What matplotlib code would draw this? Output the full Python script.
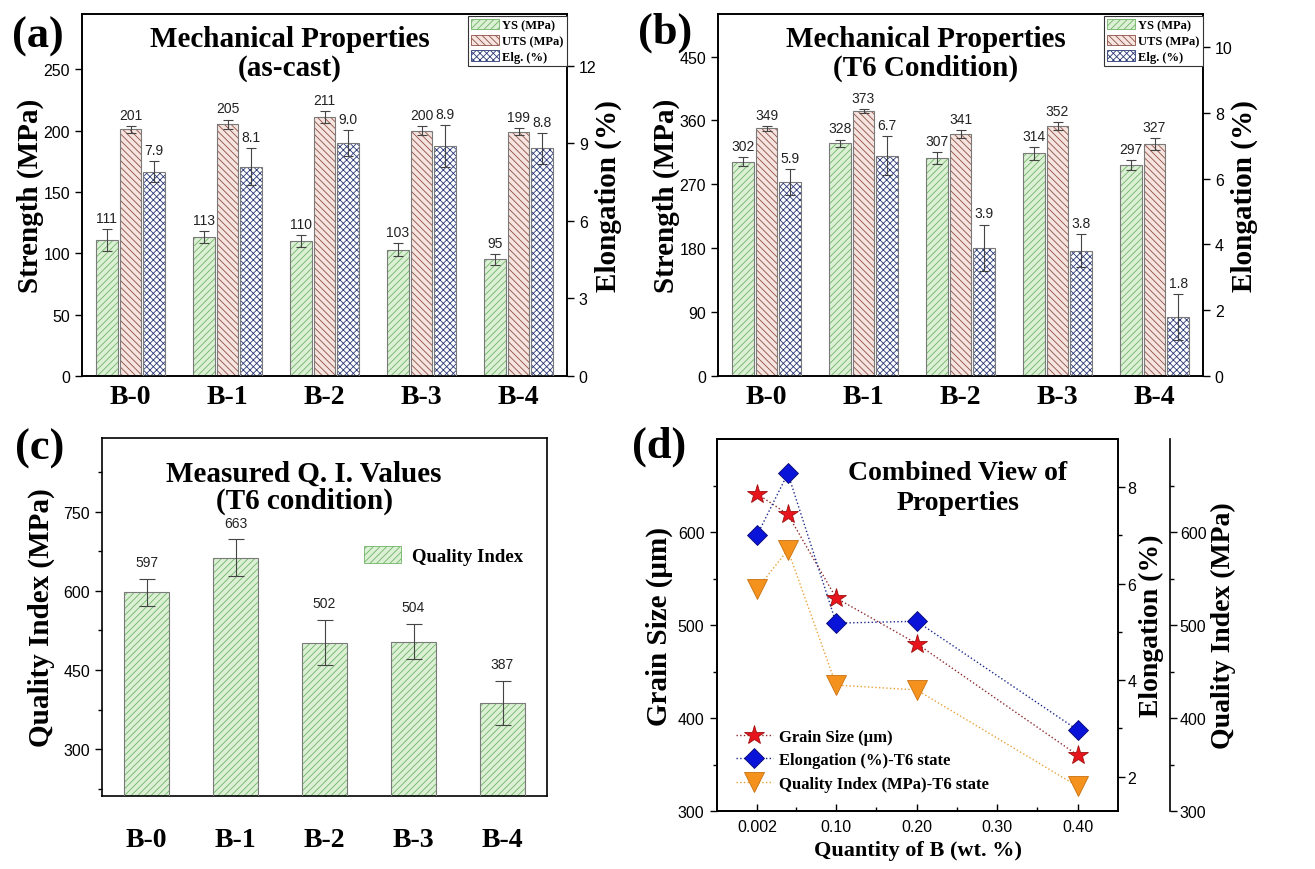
import numpy as np
import matplotlib.pyplot as plt
from matplotlib.patches import Patch
from matplotlib.ticker import FixedLocator

plt.rcParams['font.family'] = ['Liberation Sans', 'DejaVu Sans']
plt.rcParams['hatch.linewidth'] = 0.6
plt.rcParams['axes.linewidth'] = 1.2
SERIF = ['Liberation Serif', 'DejaVu Serif']

alloys = ['B-0', 'B-1', 'B-2', 'B-3', 'B-4']

# (a) as-cast
ys_cast = [111, 113, 110, 103, 95]
ys_cast_err = [9, 5, 5, 5, 4.5]
uts_cast = [201, 205, 211, 200, 199]
uts_cast_err = [3, 4, 5, 4, 3]
elg_cast = [7.9, 8.1, 9.0, 8.9, 8.8]
elg_cast_err = [0.4, 0.7, 0.5, 0.8, 0.6]

# (b) T6
ys_t6 = [302, 328, 307, 314, 297]
ys_t6_err = [6, 5, 8, 9, 7]
uts_t6 = [349, 373, 341, 352, 327]
uts_t6_err = [3.5, 3, 5, 6, 8]
elg_t6 = [5.9, 6.7, 3.9, 3.8, 1.8]
elg_t6_err = [0.4, 0.6, 0.7, 0.5, 0.7]

# (c) quality index
qi_t6 = [597, 663, 502, 504, 387]
qi_t6_err = [26, 35, 43, 34, 42]

# (d) combined
b_wt = [0.002, 0.04, 0.10, 0.20, 0.40]
grain = [641, 619, 529, 480, 360]
b_ticks = [0.002, 0.10, 0.20, 0.30, 0.40]
b_ticklabels = ['0.002', '0.10', '0.20', '0.30', '0.40']

# bar styles: face, hatch colour, hatch
YS_STYLE = ('#dcf0d6', '#6fb466', '/////')
UTS_STYLE = ('#f5e4df', '#8e4f44', '\\\\\\\\\\')
ELG_STYLE = ('#ffffff', '#2c3a78', 'xxxxx')
EDGE = '#7a7a7a'


def hbar(ax, x, h, w, style):
    face, hc, hatch = style
    ax.bar(x, h, w, color=face, edgecolor=hc, hatch=hatch, linewidth=0, zorder=2)
    ax.bar(x, h, w, color='none', edgecolor=EDGE, linewidth=0.8, zorder=3)


def errs(ax, x, h, e, cap=3.5):
    ax.errorbar(x, h, yerr=e, fmt='none', ecolor='#444444', elinewidth=0.8,
                capsize=cap, capthick=0.8, zorder=4)


def values(ax, x, h, e, fmt, dy=3):
    for xi, hi, ei in zip(x, h, e):
        ax.annotate(fmt.format(hi), (xi, hi + ei), xytext=(0, dy),
                    textcoords='offset points', ha='center', va='bottom',
                    fontsize=10, color='#222222')


def title(ax, lines, x, ys, size=21):
    for t, y in zip(lines, ys):
        ax.text(x, y, t, transform=ax.transAxes, ha='center', va='baseline',
                fontsize=size, fontweight='bold', family=SERIF, zorder=6)


W, H = 1315, 870
fig = plt.figure(figsize=(W / 100, H / 100), dpi=100)


def px_axes(l, t, r, b):
    return fig.add_axes([l / W, 1 - b / H, (r - l) / W, (b - t) / H])


def strength_panel(ax, ys, yse, uts, utse, elg, elge, ylim, ylim2, yt, yt2, ttl):
    x = np.arange(len(alloys))
    w, step = 0.225, 0.245
    ax2 = ax.twinx()
    hbar(ax, x - step, ys, w, YS_STYLE)
    hbar(ax, x, uts, w, UTS_STYLE)
    hbar(ax2, x + step, elg, w, ELG_STYLE)
    errs(ax, x - step, ys, yse)
    errs(ax, x, uts, utse)
    errs(ax2, x + step, elg, elge)
    values(ax, x - step, ys, yse, '{:d}')
    values(ax, x, uts, utse, '{:d}')
    values(ax2, x + step, elg, elge, '{:.1f}')
    ax.set_xlim(-0.5, 4.5)
    ax.set_ylim(*ylim)
    ax2.set_ylim(*ylim2)
    ax.set_yticks(yt)
    ax2.set_yticks(yt2)
    ax.set_xticks(x)
    ax.set_xticklabels(alloys, fontsize=20, fontweight='bold', family=SERIF)
    ax.tick_params(axis='x', length=0, pad=6)
    ax.tick_params(axis='y', direction='out', length=5, width=1, labelsize=11.5)
    ax2.tick_params(axis='y', direction='out', length=5, width=1, labelsize=11.5)
    ax.set_ylabel('Strength (MPa)', fontsize=21, fontweight='bold', family=SERIF)
    ax2.set_ylabel('Elongation (%)', fontsize=21, fontweight='bold', family=SERIF)
    ax.yaxis.set_label_coords(-0.078, 0.5)
    ax2.yaxis.set_label_coords(1.058, 0.5)
    handles = [Patch(facecolor=s[0], edgecolor=s[1], hatch=s[2], linewidth=0.6)
               for s in (YS_STYLE, UTS_STYLE, ELG_STYLE)]
    leg = ax2.legend(handles, ['YS (MPa)', 'UTS (MPa)', 'Elg. (%)'], loc='upper right',
                     bbox_to_anchor=(1.0, 0.995), borderaxespad=0, fancybox=False,
                     edgecolor='#333333', framealpha=1, handlelength=2.2,
                     handleheight=0.9, handletextpad=0.3, labelspacing=0.25,
                     borderpad=0.25, prop={'family': SERIF, 'weight': 'bold', 'size': 9})
    leg.get_frame().set_linewidth(0.8)
    title(ax2, ttl, 0.428, [0.912, 0.832])
    return ax2


# (a)
ax_a = px_axes(82, 15, 567, 377)
strength_panel(ax_a, ys_cast, ys_cast_err, uts_cast, uts_cast_err, elg_cast, elg_cast_err,
               (0, 295), (0, 14), [0, 50, 100, 150, 200, 250], [0, 3, 6, 9, 12],
               ['Mechanical Properties', '(as-cast)'])

# (b)
ax_b = px_axes(718, 15, 1203, 377)
strength_panel(ax_b, ys_t6, ys_t6_err, uts_t6, uts_t6_err, elg_t6, elg_t6_err,
               (0, 510), (0, 11), [0, 90, 180, 270, 360, 450], [0, 2, 4, 6, 8, 10],
               ['Mechanical Properties', '(T6 Condition)'])

# (c)
ax_c = px_axes(102, 439, 547, 797)
xc = np.arange(len(alloys))
hbar(ax_c, xc, qi_t6, 0.5, YS_STYLE)
errs(ax_c, xc, qi_t6, qi_t6_err, cap=6)
values(ax_c, xc, qi_t6, qi_t6_err, '{:d}', dy=7)
ax_c.set_xlim(-0.5, 4.5)
ax_c.set_ylim(211, 890)
ax_c.set_yticks([300, 450, 600, 750])
ax_c.yaxis.set_minor_locator(FixedLocator([225, 375, 525, 675, 825]))
ax_c.set_xticks(xc)
ax_c.set_xticklabels(alloys, fontsize=20, fontweight='bold', family=SERIF)
ax_c.tick_params(axis='x', direction='in', length=5, width=1, pad=22)
ax_c.tick_params(axis='y', which='both', direction='out', width=1, labelsize=11.5)
ax_c.tick_params(axis='y', which='major', length=5)
ax_c.tick_params(axis='y', which='minor', length=3)
ax_c.set_ylabel('Quality Index (MPa)', fontsize=21, fontweight='bold', family=SERIF)
ax_c.yaxis.set_label_coords(-0.105, 0.5)
ax_c.legend([Patch(facecolor=YS_STYLE[0], edgecolor=YS_STYLE[1], hatch=YS_STYLE[2], linewidth=0.6)],
            ['Quality Index'], loc='upper left', bbox_to_anchor=(0.55, 0.745), frameon=False,
            handlelength=2.0, handleheight=1.0, handletextpad=0.6,
            prop={'family': SERIF, 'weight': 'bold', 'size': 13.5})
title(ax_c, ['Measured Q. I. Values', '(T6 condition)'], 0.454, [0.88, 0.805])

# (d)
ax_d = px_axes(717, 440, 1118, 812)
ax_e = ax_d.twinx()
ax_q = ax_d.twinx()
ax_q.spines['right'].set_position(('axes', 1.13))
l1, = ax_d.plot(b_wt, grain, linestyle=':', color='#8c2a2a', linewidth=1.0,
                marker='*', markersize=15, markerfacecolor='#e8141b',
                markeredgecolor='#a01010', markeredgewidth=0.6, zorder=3)
l2, = ax_q.plot(b_wt, qi_t6, linestyle=':', color='#1c2a8c', linewidth=1.0,
                marker='D', markersize=10, markerfacecolor='#0a14d8',
                markeredgecolor='#0a0a70', markeredgewidth=0.6, zorder=3)
l3, = ax_e.plot(b_wt, elg_t6, linestyle=':', color='#e8a23a', linewidth=1.0,
                marker='v', markersize=14, markerfacecolor='#f5921e',
                markeredgecolor='#c87010', markeredgewidth=0.6, zorder=3)
ax_d.set_xlim(-0.048, 0.45)
ax_d.set_ylim(300, 700)
ax_q.set_ylim(300, 700)
ax_e.set_ylim(1.29, 9.0)
ax_d.set_xticks(b_ticks)
ax_d.set_xticklabels(b_ticklabels)
ax_d.xaxis.set_minor_locator(FixedLocator([0.05, 0.15, 0.25, 0.35]))
ax_d.tick_params(axis='x', which='both', direction='in', width=1, labelsize=11.5, pad=6)
ax_d.tick_params(axis='x', which='major', length=5)
ax_d.tick_params(axis='x', which='minor', length=3)
ax_d.set_yticks([300, 400, 500, 600])
ax_d.yaxis.set_minor_locator(FixedLocator([350, 450, 550, 650]))
ax_q.set_yticks([300, 400, 500, 600])
ax_q.yaxis.set_minor_locator(FixedLocator([350, 450, 550, 650]))
ax_e.set_yticks([2, 4, 6, 8])
ax_e.yaxis.set_minor_locator(FixedLocator([3, 5, 7]))
for a in (ax_d, ax_e, ax_q):
    a.tick_params(axis='y', which='both', direction='out', width=1, labelsize=11.5, pad=2)
    a.tick_params(axis='y', which='major', length=5)
    a.tick_params(axis='y', which='minor', length=3)
ax_d.tick_params(axis='y', pad=4)
ax_d.set_xlabel('Quantity of B (wt. %)', fontsize=16, fontweight='bold', family=SERIF, labelpad=4)
ax_d.set_ylabel('Grain Size (\u03bcm)', fontsize=21, fontweight='bold', family=SERIF)
ax_e.set_ylabel('Elongation (%)', fontsize=20, fontweight='bold', family=SERIF)
ax_q.set_ylabel('Quality Index (MPa)', fontsize=20, fontweight='bold', family=SERIF)
ax_d.yaxis.set_label_coords(-0.11, 0.5)
ax_e.yaxis.set_label_coords(1.052, 0.5)
ax_q.yaxis.set_label_coords(1.232, 0.5)
ax_q.legend([l1, l2, l3], ['Grain Size (\u03bcm)', 'Elongation (%)-T6 state',
                           'Quality Index (MPa)-T6 state'],
            loc='lower left', bbox_to_anchor=(0.01, 0.012), frameon=False,
            handlelength=2.2, handletextpad=0.4, labelspacing=0.45,
            prop={'family': SERIF, 'weight': 'bold', 'size': 12})
title(ax_q, ['Combined View of', 'Properties'], 0.6, [0.8925, 0.812], size=20)

# panel letters
for lab, x, y in [('(a)', 12, 48), ('(b)', 638, 44), ('(c)', 15, 460), ('(d)', 632, 458)]:
    fig.text(x / W, 1 - y / H, lab, ha='left', va='baseline', fontsize=32,
             fontweight='bold', family=SERIF)

fig.savefig('out.png', dpi=100)
